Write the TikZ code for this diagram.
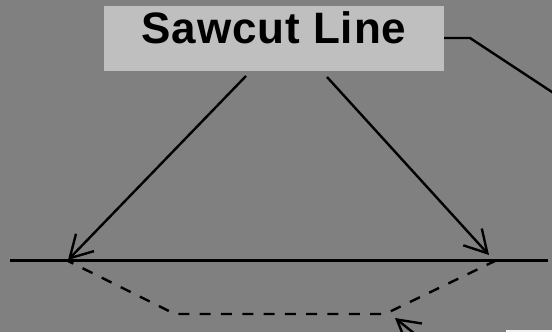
\documentclass[tikz,border=0pt]{standalone}
\usepackage{fontspec}
\setmainfont{Liberation Sans}
\usetikzlibrary{arrows.meta}
\definecolor{bg}{gray}{0.5}
\definecolor{lab}{gray}{0.75}
\tikzset{
  conn/.style={draw=black,line width=2.4pt},
  barb/.style={conn,-{Straight Barb[length=22pt,width=25pt,line width=2.4pt]}},
  dashline/.style={conn,dash pattern=on 11pt off 10.3pt,dash phase=5pt},
  labelbox/.style={fill=lab,draw=none,minimum width=340pt,minimum height=65pt,inner sep=0pt,anchor=north west},
}
\begin{document}
\begin{tikzpicture}[x=1pt,y=-1pt]
\useasboundingbox (0,0) rectangle (552,332);
\clip (0,0) rectangle (552,332);
\fill[bg] (0,0) rectangle (552,332);
\fill[black!5] (506,329.5) rectangle (552,332);
\node[labelbox] (box) at (104,6) {};
\node[anchor=base,inner sep=0pt,font=\bfseries\fontsize{44}{44}\selectfont\addfontfeature{LetterSpace=2}] (title) at (274,43) {Sawcut Line};
\coordinate (a1) at (246,76);
\coordinate (a2) at (327,77);
\coordinate (l) at (10,260.3);
\coordinate (r) at (548,260.3);
\coordinate (tl) at (68,260);
\coordinate (tr) at (489,255);
\coordinate (d1) at (68,261);
\coordinate (d2) at (175,314);
\coordinate (d3) at (385,314);
\coordinate (d4) at (497,260);
\coordinate (e1) at (444,38);
\coordinate (e2) at (470,38);
\coordinate (e3) at (560,97.3);
\coordinate (b1) at (420,338);
\coordinate (b2) at (395,318);
\draw[conn] (l) -- (r);
\draw[barb] (a1) -- (tl);
\draw[barb] (a2) -- (tr);
\draw[dashline] (d1) -- (d2) -- (d3) -- (d4);
\draw[conn] (e1) -- (e2) -- (e3);
\draw[barb] (b1) -- (b2);
\end{tikzpicture}
\end{document}
